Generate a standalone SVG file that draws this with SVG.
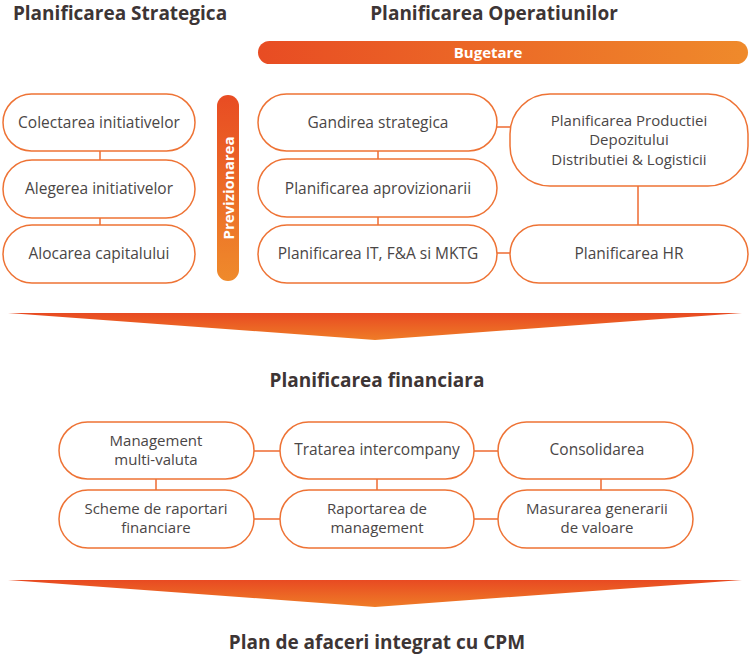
<svg xmlns="http://www.w3.org/2000/svg" width="750" height="654" viewBox="0 0 750 654">
<defs>
<linearGradient id="gH" x1="0" y1="0" x2="1" y2="0"><stop offset="0" stop-color="#e84c23"/><stop offset="1" stop-color="#ef8a2b"/></linearGradient>
<linearGradient id="gV" x1="0" y1="0" x2="0" y2="1"><stop offset="0" stop-color="#e84c23"/><stop offset="1" stop-color="#ef8a2b"/></linearGradient>
<linearGradient id="gA" x1="0" y1="0" x2="0" y2="1"><stop offset="0" stop-color="#e84a22"/><stop offset="1" stop-color="#ef7c27"/></linearGradient>
<style>
.box{fill:#fff;stroke:#ee7335;stroke-width:1.5}
.t{font-family:"Open Sans","Liberation Sans",sans-serif;font-size:15.5px;fill:#4a4646;text-anchor:middle}
.t2{font-family:"Open Sans","Liberation Sans",sans-serif;font-size:15px;fill:#4a4646;text-anchor:middle}
.h{font-family:"Open Sans","Liberation Sans",sans-serif;font-size:19px;font-weight:bold;fill:#3d3535;text-anchor:middle}
.w{font-family:"Open Sans","Liberation Sans",sans-serif;font-size:15px;font-weight:bold;fill:#fff;text-anchor:middle}
.c{stroke:#ee6a30;stroke-width:1.5;fill:none}
</style>
</defs>
<rect width="750" height="654" fill="#fff"/>
<text class="h" x="120" y="19.5">Planificarea Strategica</text>
<text class="h" x="494" y="19.5">Planificarea Operatiunilor</text>
<g id="bugetare"><rect x="258" y="41" width="490" height="23" rx="11.5" fill="url(#gH)"/><text class="w" x="488" y="58">Bugetare</text></g>
<g id="previzionarea"><rect x="217" y="95" width="22" height="186" rx="11" fill="url(#gV)"/><text class="w" transform="translate(233.5 188) rotate(-90)" x="0" y="0">Previzionarea</text></g>
<g id="connectors">
<line class="c" x1="100" y1="151" x2="100" y2="160"/>
<line class="c" x1="100" y1="218" x2="100" y2="225"/>
<line class="c" x1="378" y1="151" x2="378" y2="159"/>
<line class="c" x1="378" y1="217" x2="378" y2="225"/>
<line class="c" x1="497" y1="127" x2="510" y2="127"/>
<line class="c" x1="497" y1="253" x2="510" y2="253"/>
<line class="c" x1="638" y1="186" x2="638" y2="225"/>
<line class="c" x1="254" y1="451" x2="280" y2="451"/>
<line class="c" x1="474" y1="451" x2="498" y2="451"/>
<line class="c" x1="254" y1="519" x2="280" y2="519"/>
<line class="c" x1="474" y1="519" x2="498" y2="519"/>
<line class="c" x1="156" y1="479" x2="156" y2="490"/>
<line class="c" x1="377" y1="479" x2="377" y2="490"/>
<line class="c" x1="601" y1="479" x2="601" y2="490"/>
</g>
<g id="n1"><rect class="box" x="3" y="94" width="192" height="57" rx="28.5"/><text class="t" x="99" y="128">Colectarea initiativelor</text></g>
<g id="n2"><rect class="box" x="3" y="160" width="192" height="58" rx="29"/><text class="t" x="99" y="194">Alegerea initiativelor</text></g>
<g id="n3"><rect class="box" x="3" y="225" width="192" height="58" rx="29"/><text class="t" x="99" y="259">Alocarea capitalului</text></g>
<g id="n4"><rect class="box" x="258" y="94" width="239" height="57" rx="28.5"/><text class="t" x="378" y="128">Gandirea strategica</text></g>
<g id="n5"><rect class="box" x="258" y="159" width="239" height="58" rx="29"/><text class="t" x="378" y="194">Planificarea aprovizionarii</text></g>
<g id="n6"><rect class="box" x="258" y="225" width="239" height="58" rx="29"/><text class="t" x="378" y="259">Planificarea IT, F&amp;A si MKTG</text></g>
<g id="n7"><rect class="box" x="510" y="94" width="238" height="92" rx="40"/><text class="t2" x="629" y="125.5">Planificarea Productiei</text><text class="t2" x="629" y="145">Depozitului</text><text class="t2" x="629" y="164.5">Distributiei &amp; Logisticii</text></g>
<g id="n8"><rect class="box" x="510" y="225" width="238" height="58" rx="29"/><text class="t" x="629" y="259">Planificarea HR</text></g>
<g id="arrow1"><polygon points="8,313 742,313 375,340" fill="url(#gA)"/></g>
<text class="h" x="377" y="387">Planificarea financiara</text>
<g id="m1"><rect class="box" x="59" y="422" width="195" height="57" rx="28.5"/><text class="t2" x="156" y="445.5">Management</text><text class="t2" x="156" y="465">multi-valuta</text></g>
<g id="m2"><rect class="box" x="280" y="422" width="194" height="57" rx="28.5"/><text class="t" x="377" y="455">Tratarea intercompany</text></g>
<g id="m3"><rect class="box" x="498" y="422" width="195" height="57" rx="28.5"/><text class="t" x="597" y="455">Consolidarea</text></g>
<g id="m4"><rect class="box" x="59" y="490" width="195" height="58" rx="29"/><text class="t2" x="156" y="513.5">Scheme de raportari</text><text class="t2" x="156" y="533">financiare</text></g>
<g id="m5"><rect class="box" x="280" y="490" width="194" height="58" rx="29"/><text class="t2" x="377" y="513.5">Raportarea de</text><text class="t2" x="377" y="533">management</text></g>
<g id="m6"><rect class="box" x="498" y="490" width="195" height="58" rx="29"/><text class="t2" x="597" y="513.5">Masurarea generarii</text><text class="t2" x="597" y="533">de valoare</text></g>
<g id="arrow2"><polygon points="8,580 742,580 375,607" fill="url(#gA)"/></g>
<text class="h" x="377" y="649">Plan de afaceri integrat cu CPM</text>
</svg>
